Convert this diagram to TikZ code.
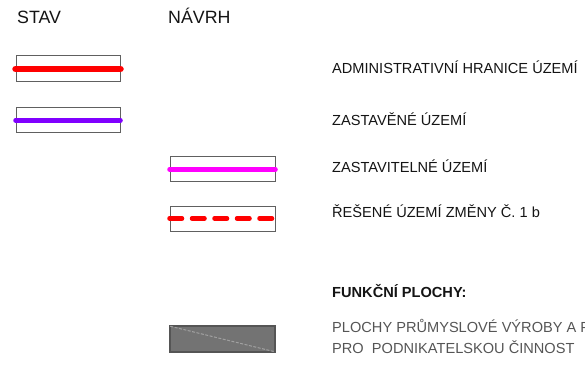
\documentclass[tikz,border=0pt]{standalone}
\usepackage{fontspec}
\setmainfont{Liberation Sans}
\usetikzlibrary{positioning}

\definecolor{boxgray}{HTML}{606060}
\definecolor{areagray}{HTML}{737373}
\definecolor{areaedge}{HTML}{555555}
\definecolor{areadiag}{HTML}{A0A0A0}
\definecolor{violetline}{HTML}{8000FF}
\definecolor{magentaline}{HTML}{FF00FF}
\definecolor{greytext}{HTML}{555555}

\tikzset{
  legbox/.style={draw=boxgray, line width=1pt, rectangle, minimum width=104pt, minimum height=25pt, inner sep=0pt},
  legtext/.style={anchor=base west, inner sep=0pt, text=black!92, font=\fontsize{14.6}{17}\selectfont},
  headtext/.style={anchor=base west, inner sep=0pt, text=black!92, font=\fontsize{17.8}{20}\selectfont},
  symline/.style={line width=4.5pt, line cap=round},
}

\begin{document}
\begin{tikzpicture}[x=1pt,y=-1pt]
        \useasboundingbox (0,0) rectangle (585,379);
        \clip (0,0) rectangle (585,379);

        \node (headStav) at (17,24) [headtext] {STAV};
        \node (headNavrh) at (168,24) [headtext] {NÁVRH};

        % stav
        \node (boxAdmin) at (68,69) [legbox, minimum height=26pt] {};
        \draw[red, symline, line width=6.5pt] (boxAdmin.west) -- (boxAdmin.east);
        \node (txtAdmin) at (332,74) [legtext] {ADMINISTRATIVNÍ HRANICE ÚZEMÍ};

        \node (boxZast) at (68,120.5) [legbox] {};
        \draw[violetline, symline] (boxZast.west) -- (boxZast.east);
        \node (txtZast) at (332,126) [legtext] {ZASTAVĚNÉ ÚZEMÍ};

        % navrh
        \node (boxZastav) at (222.5,169.5) [legbox, minimum width=105pt] {};
        \draw[magentaline, symline] (boxZastav.west) -- (boxZastav.east);
        \node (txtZastav) at (332,173) [legtext] {ZASTAVITELNÉ ÚZEMÍ};

        \node (boxReseni) at (222.5,218.5) [legbox, minimum width=105pt] {};
        \draw[red, symline, dash pattern=on 12.5pt off 10pt] (boxReseni.west) -- (boxReseni.east);
        \node (txtReseni) at (332,217) [legtext] {ŘEŠENÉ ÚZEMÍ ZMĚNY Č. 1 b};

        % funkcni plochy
        \node (txtFunkce) at (332,297) [legtext, font=\fontsize{14.6}{17}\selectfont\bfseries] {FUNKČNÍ PLOCHY:};

        \node (boxVyroba) at (222.5,339) [legbox, minimum width=105pt, minimum height=26pt, draw=areaedge, fill=areagray, line width=1.5pt] {};
        \draw[areadiag, line width=1pt, dash pattern=on 3pt off 1.5pt] ([xshift=1pt,yshift=-1pt]boxVyroba.north west) -- ([xshift=-1pt,yshift=1pt]boxVyroba.south east);
        \node (txtVyroba) at (332,332) [legtext, text=greytext] {PLOCHY PRŮMYSLOVÉ VÝROBY A PLOCHY};
        \node (txtVyroba2) at (332,353) [legtext, text=greytext] {PRO\ \ PODNIKATELSKOU ČINNOST};
\end{tikzpicture}
\end{document}
